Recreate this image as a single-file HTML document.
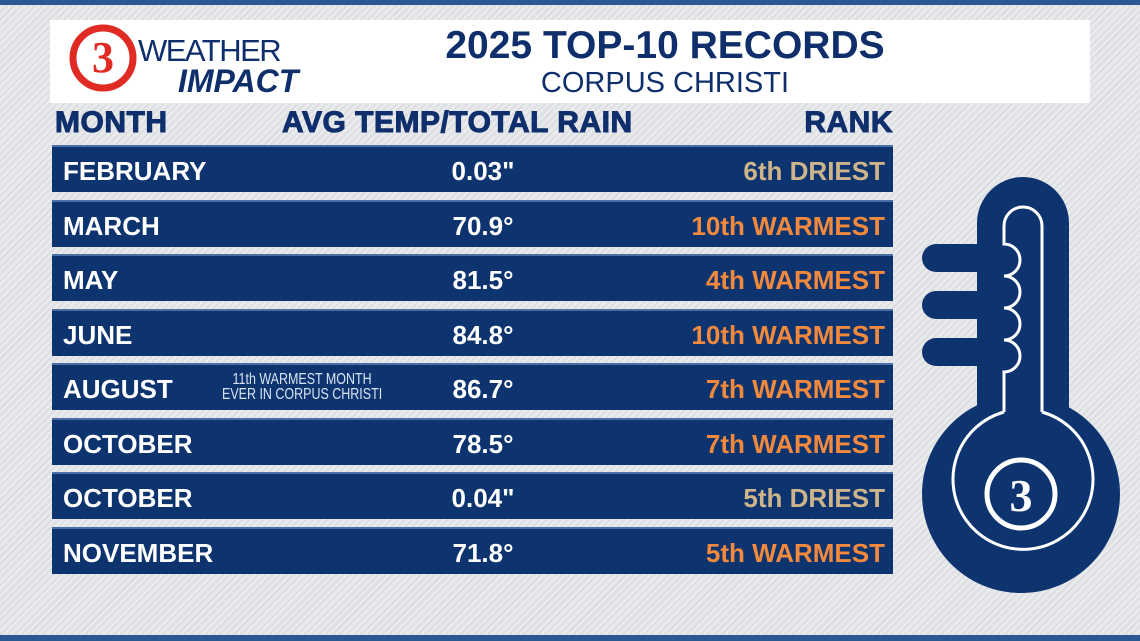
<!DOCTYPE html>
<html><head><meta charset="utf-8"><style>
body{margin:0;width:1140px;height:641px;overflow:hidden;position:relative;font-family:"Liberation Sans",sans-serif;
background:repeating-linear-gradient(135deg,#e9eaec 0 3px,#dcdee2 3px 5px);}
.bar{position:absolute;left:0;width:1140px;background:#2b5793}
.hdr{position:absolute;left:50px;top:20px;width:1040px;height:83px;background:#fff}
.col{position:absolute;top:106px;font-weight:900;font-size:30px;color:#0e2f6c;letter-spacing:0.5px;-webkit-text-stroke:1px #0e2f6c}
.row{position:absolute;left:52px;width:841px;height:47px;background:#0e3470;border-top:2px solid #4a6fa5;box-sizing:border-box}
.row span{position:absolute;top:9px;font-weight:bold;font-size:26px;color:#fff}
.m{left:11px}.v{left:381px;width:100px;text-align:center}.r{right:8px}
.w{color:#f2893c!important}.d{color:#cdb48a!important}
.note{position:absolute;left:170px;top:7px;font-size:16px;line-height:15px;color:#d8e4f4;text-align:center;transform:scaleX(0.78);transform-origin:left}
</style></head><body>
<div class="bar" style="top:0;height:5px"></div>
<div class="bar" style="top:635px;height:6px"></div>
<div class="hdr">
 <svg width="290" height="83" style="position:absolute;left:0;top:0">
  <circle cx="53" cy="38" r="30" fill="none" stroke="#e02a24" stroke-width="7"/>
  <text x="53" y="52" text-anchor="middle" font-family="Liberation Serif" font-weight="bold" font-size="44" fill="#e02a24">3</text>
  <text x="88" y="41" font-family="Liberation Sans" font-size="31" fill="#0e2f6c" letter-spacing="-1.5">WEATHER</text>
  <text x="128" y="72" font-family="Liberation Sans" font-weight="bold" font-style="italic" font-size="32" fill="#0e2f6c">IMPACT</text>
 </svg>
 <div style="position:absolute;left:355px;top:4px;width:520px;text-align:center;font-weight:bold;font-size:39px;color:#0e2f6c">2025 TOP-10 RECORDS</div>
 <div style="position:absolute;left:355px;top:47px;width:520px;text-align:center;font-size:29px;color:#0e2f6c">CORPUS CHRISTI</div>
</div>
<div class="col" style="left:55px">MONTH</div>
<div class="col" style="left:282px">AVG TEMP/TOTAL RAIN</div>
<div class="col" style="right:247px">RANK</div>
<div id="rows"></div>
<svg width="1140" height="641" style="position:absolute;left:0;top:0">
 <g fill="#0e3470">
  <rect x="922" y="244" width="100" height="28" rx="14"/>
  <rect x="922" y="291" width="100" height="28" rx="14"/>
  <rect x="922" y="338" width="100" height="28" rx="14"/>
  <rect x="977" y="177" width="92" height="300" rx="46"/>
  <circle cx="1021" cy="494" r="99"/>
 </g>
 <g fill="none" stroke="#fff" stroke-width="3">
  <path d="M1004 412 V372 a16 16 0 0 0 0 -32 a16 16 0 0 0 0 -32 a16 16 0 0 0 0 -32 a16 16 0 0 0 0 -32 V226 a19 19 0 0 1 38 0 V412"/>
  <path d="M1004 412 A70 70 0 1 0 1042 412"/>
 </g>
 <circle cx="1021" cy="494" r="34" fill="none" stroke="#fff" stroke-width="5"/>
 <text x="1021" y="511" text-anchor="middle" font-family="Liberation Serif" font-weight="bold" font-size="46" fill="#fff">3</text>
</svg>
<script>
const months=["FEBRUARY","MARCH","MAY","JUNE","AUGUST","OCTOBER","OCTOBER","NOVEMBER"];
const values=["0.03\"","70.9°","81.5°","84.8°","86.7°","78.5°","0.04\"","71.8°"];
const ranks=["6th DRIEST","10th WARMEST","4th WARMEST","10th WARMEST","7th WARMEST","7th WARMEST","5th DRIEST","5th WARMEST"];
const c=document.getElementById('rows');
months.forEach((m,i)=>{
 const r=document.createElement('div');r.className='row';r.style.top=(145+i*54.5)+'px';
 
 
 const a=document.createElement('span');a.className='m';a.textContent=m;
 
 
 const b=document.createElement('span');b.className='v';b.textContent=values[i];
 
 
 const d=document.createElement('span');d.className='r '+(ranks[i].includes('DRIEST')?'d':'w');d.textContent=ranks[i];
 
 
 r.append(a,b,d);
 if(m==='AUGUST'){const n=document.createElement('div');n.className='note';n.innerHTML='11th WARMEST MONTH<br>EVER IN CORPUS CHRISTI';
  
  
  r.append(n);}
 c.append(r);
});
</script>
</body></html>
